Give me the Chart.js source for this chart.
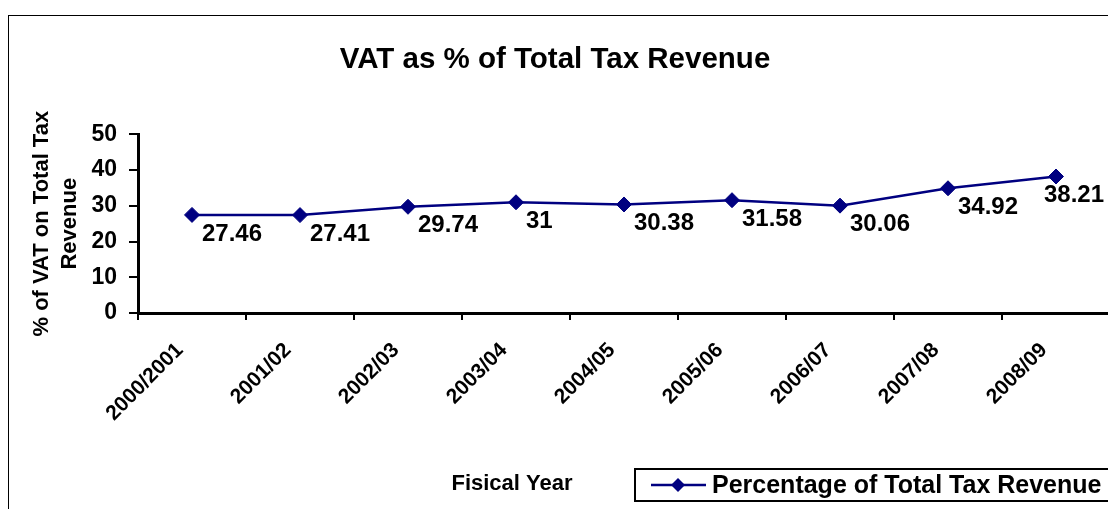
<!DOCTYPE html>
<html>
<head>
<meta charset="utf-8">
<script src="https://cdn.jsdelivr.net/npm/chart.js@4/dist/chart.umd.min.js"></script>
<style>
  html, body { margin: 0; padding: 0; background: #fff; overflow: hidden; }
  #vatChart { position: absolute; left: 0; top: 0; }
</style>
</head>
<body>
<canvas id="vatChart" width="1120" height="509"></canvas>
<script>
const fiscalYears = ['2000/2001', '2001/02', '2002/03', '2003/04', '2004/05', '2005/06', '2006/07', '2007/08', '2008/09'];
const vatShare = [27.46, 27.41, 29.74, 31, 30.38, 31.58, 30.06, 34.92, 38.21];
const yTicks = [0, 10, 20, 30, 40, 50];
const seriesName = 'Percentage of Total Tax Revenue';
const chartTitle = 'VAT as % of Total Tax Revenue';
const xTitle = 'Fisical Year';
const yTitle = ['% of VAT on Total Tax', 'Revenue'];

const FONT = '"Liberation Sans", Arial, sans-serif';
const NAVY = '#000080';

// outer frame of the excel chart object
const framePlugin = {
    id: 'frame',
    beforeDraw(chart) {
        const ctx = chart.ctx;
        ctx.save();
        ctx.fillStyle = '#fff';
        ctx.fillRect(0, 0, chart.width, chart.height);
        ctx.strokeStyle = '#000';
        ctx.lineWidth = 1;
        ctx.strokeRect(8.5, 15.5, 1400, 700);
        ctx.restore();
    }
};

// value labels next to each point
const valueLabels = {
    id: 'valueLabels',
    afterDatasetsDraw(chart) {
        const ctx = chart.ctx;
        const meta = chart.getDatasetMeta(0);
        const data = chart.data.datasets[0].data;
        ctx.save();
        ctx.font = 'bold 24px ' + FONT;
        ctx.fillStyle = '#000';
        ctx.textBaseline = 'middle';
        ctx.textAlign = 'left';
        meta.data.forEach((pt, i) => {
            const txt = String(data[i]);
            const w = ctx.measureText(txt).width;
            let x = pt.x + 10;
            if (x + w > 1104) x = 1104 - w;
            ctx.fillText(txt, x, pt.y + 19);
        });
        ctx.restore();
    }
};

// bottom row: axis title and boxed legend
const bottomRow = {
    id: 'bottomRow',
    afterDraw(chart) {
        const ctx = chart.ctx;
        const ds = chart.data.datasets[0];
        ctx.save();
        ctx.fillStyle = '#000';
        ctx.textBaseline = 'middle';
        ctx.textAlign = 'center';
        ctx.font = 'bold 22px ' + FONT;
        ctx.fillText(xTitle, 512, 484);

        ctx.strokeStyle = '#000';
        ctx.lineWidth = 2;
        ctx.strokeRect(635, 469, 600, 32);

        ctx.strokeStyle = ds.borderColor;
        ctx.lineWidth = ds.borderWidth;
        ctx.beginPath();
        ctx.moveTo(651, 485);
        ctx.lineTo(706, 485);
        ctx.stroke();
        ctx.fillStyle = ds.pointBackgroundColor;
        ctx.beginPath();
        ctx.moveTo(678, 478);
        ctx.lineTo(685, 485);
        ctx.lineTo(678, 492);
        ctx.lineTo(671, 485);
        ctx.closePath();
        ctx.fill();

        ctx.fillStyle = '#000';
        ctx.textAlign = 'left';
        ctx.font = 'bold 25px ' + FONT;
        ctx.fillText(ds.label, 712, 486);
        ctx.restore();
    }
};

new Chart(document.getElementById('vatChart'), {
    type: 'line',
    data: {
        labels: fiscalYears,
        datasets: [{
            label: seriesName,
            data: vatShare,
            borderColor: NAVY,
            backgroundColor: NAVY,
            borderWidth: 2.5,
            tension: 0,
            pointStyle: 'rectRot',
            pointRadius: 7.5,
            pointHoverRadius: 7.5,
            pointBackgroundColor: NAVY,
            pointBorderColor: NAVY,
            pointBorderWidth: 1
        }]
    },
    options: {
        responsive: false,
        animation: false,
        events: [],
        layout: { padding: { left: 0, right: 10, top: 0, bottom: 0 } },
        plugins: {
            legend: { display: false },
            tooltip: { enabled: false },
            title: {
                display: true,
                text: chartTitle,
                color: '#000',
                font: { family: FONT, size: 29.5, weight: 'bold' },
                padding: { top: 42, bottom: 57 }
            }
        },
        scales: {
            x: {
                offset: true,
                afterFit(scale) { scale.height = 196; },
                grid: {
                    offset: true,
                    drawOnChartArea: false,
                    drawTicks: true,
                    tickLength: 7,
                    color: '#000',
                    lineWidth: 2
                },
                border: { display: true, color: '#000', width: 3 },
                ticks: {
                    autoSkip: false,
                    minRotation: 45,
                    maxRotation: 45,
                    padding: 18,
                    labelOffset: -12,
                    color: '#000',
                    font: { family: FONT, size: 21, weight: 'bold' }
                }
            },
            y: {
                min: 0,
                max: 50,
                afterFit(scale) { scale.width = 138; },
                afterBuildTicks(scale) { scale.ticks = yTicks.map(v => ({ value: v })); },
                grid: {
                    drawOnChartArea: false,
                    drawTicks: true,
                    tickLength: 9,
                    color: '#000',
                    lineWidth: 2
                },
                border: { display: true, color: '#000', width: 3 },
                ticks: {
                    padding: 12,
                    color: '#000',
                    font: { family: FONT, size: 23, weight: 'bold' }
                },
                title: {
                    display: true,
                    text: yTitle,
                    color: '#000',
                    font: { family: FONT, size: 22, weight: 'bold', lineHeight: 1.27 },
                    padding: { top: 28, bottom: 0 }
                }
            }
        }
    },
    plugins: [framePlugin, valueLabels, bottomRow]
});
</script>
</body>
</html>
